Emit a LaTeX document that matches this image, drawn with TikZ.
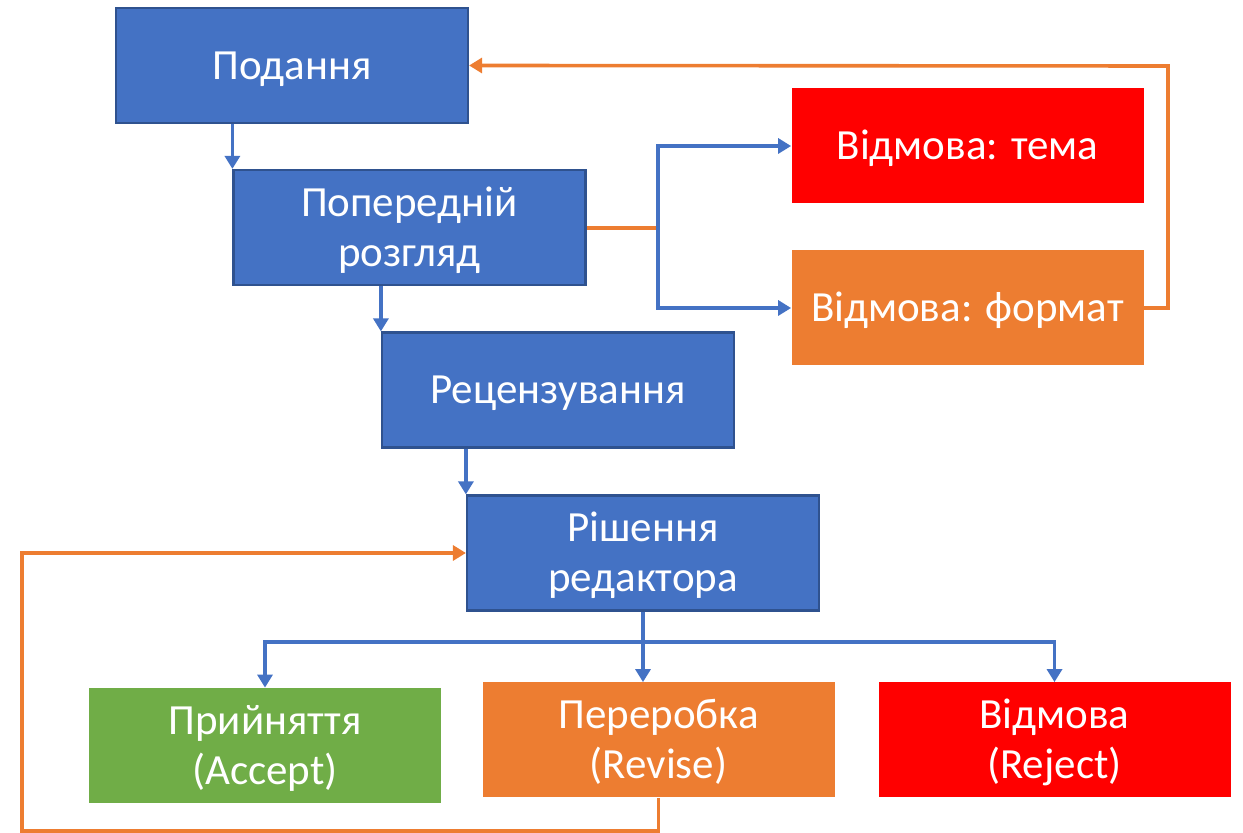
\documentclass[tikz,border=0pt]{standalone}
\usepackage{fontspec}
\setmainfont{Carlito}
\usetikzlibrary{arrows.meta}
\definecolor{mblue}{HTML}{4472C4}
\definecolor{mborder}{HTML}{2F528F}
\definecolor{morange}{HTML}{ED7D31}
\definecolor{mred}{HTML}{FF0000}
\definecolor{mgreen}{HTML}{70AD47}
\newcommand{\boxtxt}[1]{\raisebox{-2pt}[\height][\depth]{\begin{tabular}{@{}c@{}}#1\end{tabular}}}
\tikzset{
  box/.style={rectangle, minimum width=176pt, minimum height=57.5pt, inner sep=0pt,
    text=white, align=center, font=\fontsize{21.5}{25}\selectfont},
  bluebox/.style={box, fill=mblue, draw=mborder, line width=1.1pt},
  redbox/.style={box, fill=mred},
  orangebox/.style={box, fill=morange},
  greenbox/.style={box, fill=mgreen},
  bline/.style={draw=mblue, line width=1.8pt},
  oline/.style={draw=morange, line width=1.8pt},
  barrow/.style={bline, -{Triangle[length=6.5pt,width=7.5pt]}},
  oarrow/.style={oline, -{Triangle[length=6.5pt,width=7.5pt]}}
}
\begin{document}
\begin{tikzpicture}[x=0.5pt,y=-0.5pt]
\useasboundingbox (0,0) rectangle (1243,833);
\node[bluebox] (pod) at (292,65.5) {\boxtxt{Подання}};
\node[bluebox] (pop) at (409.5,227.5) {\boxtxt{Попередній\\розгляд}};
\node[bluebox] (rec) at (558,390) {\boxtxt{Рецензування}};
\node[bluebox] (rish) at (643,553) {\boxtxt{Рішення\\редактора}};
\node[redbox] (tema) at (967.5,146) {\boxtxt{Відмова: тема}};
\node[orangebox] (format) at (967.5,308) {\boxtxt{Відмова: формат}};
\node[greenbox] (acc) at (265,745.5) {\boxtxt{Прийняття\\(Accept)}};
\node[orangebox] (rev) at (658.5,740) {\boxtxt{Переробка\\(Revise)}};
\node[redbox] (rej) at (1054.5,740) {\boxtxt{Відмова\\(Reject)}};
\coordinate (j1) at (658,228);
\coordinate (c1) at (1168,66);
\coordinate (j2) at (643,642);
\coordinate (c2) at (22,831);
\draw[barrow] (pod.south -| pop.west) -- (pop.north west);
\draw[barrow] (pop.south -| rec.west) -- (rec.north west);
\draw[barrow] (rec.south -| rish.west) -- (rish.north west);
\draw[oline] (pop.east |- j1) -- (j1);
\draw[barrow] (j1) |- (tema.west);
\draw[barrow] (j1) |- (format.west);
\draw[oarrow] (format.east) -| (c1) -- (pod.east);
\draw[bline] (rish.south) -- (j2);
\draw[barrow] (j2) -| (acc.north);
\draw[barrow] (j2) -| (rej.north);
\draw[barrow] (j2) -- (j2 |- rev.north);
\draw[oarrow] (rev.south) |- (c2) |- (rish.west);
\end{tikzpicture}
\end{document}
